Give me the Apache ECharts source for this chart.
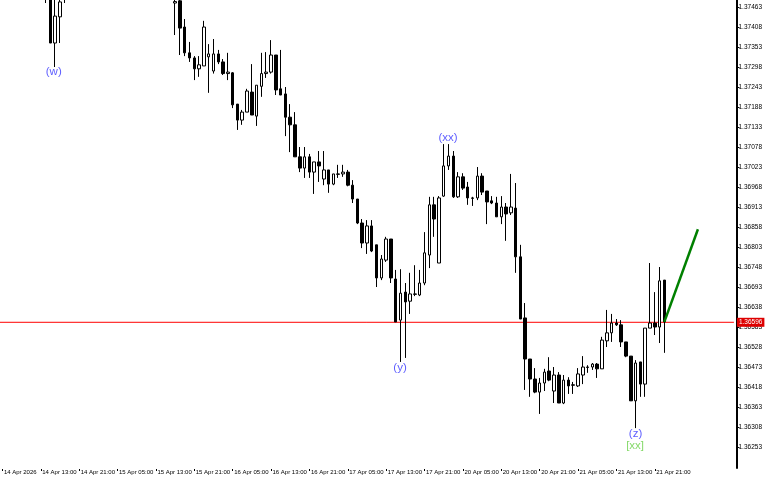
<!DOCTYPE html>
<html>
<head>
<meta charset="utf-8">
<script src="https://cdn.jsdelivr.net/npm/echarts@6/dist/echarts.min.js"></script>
<style>
html,body{margin:0;padding:0;background:#fff;}
#chart{width:768px;height:480px;}
</style>
</head>
<body>
<div id="chart"></div>
<script>
// ---------------- DATA ----------------
// Hourly bars, index 0 = 14 Apr 2026 05:00 (weekend hours skipped). null = bar outside visible price range.
var opens = [null,null,null,null,null,null,null,null,null,
 1.3752,1.3752,1.37364,1.37436,1.3751,
 null,null,null,null,null,null,null,null,null,null,null,null,null,null,null,null,null,null,null,null,null,null,
 1.37474,1.37480,1.37408,1.37337,1.37323,1.37293,1.37301,1.37326,1.37287,1.37334,
 1.37312,1.37280,1.37282,1.37196,1.37152,1.37174,1.37229,1.37163,1.37245,1.37280,
 1.37284,1.37331,1.37238,1.37224,1.37160,1.37139,1.37051,1.37020,1.37051,1.37009,
 1.37037,1.36990,1.37015,1.36976,1.37004,1.37004,1.37009,1.36973,1.36935,1.36869,
 1.36814,1.36861,1.36809,1.36718,1.36767,1.36825,1.36715,1.36602,1.36679,1.36654,
 1.36674,1.36671,1.36704,1.36781,1.36919,1.36759,1.36943,1.37026,1.37053,1.36941,
 1.36996,1.36968,1.36938,1.36938,1.36998,1.36957,1.36930,1.36924,1.36886,1.36913,
 1.36897,1.36910,1.36776,1.36608,1.36495,1.36440,1.36404,1.36429,1.36462,1.36407,
 1.36451,1.36374,1.36437,1.36424,1.36421,1.36451,1.36473,1.36473,1.36481,1.36468,
 1.36545,1.36567,1.36594,1.36589,1.36542,1.36503,1.36380,1.36487,1.36426,1.36580,
 1.36594,1.36583,1.36712];
var closes = [null,null,null,null,null,null,null,null,null,
 1.3750,1.37364,1.37438,1.37477,1.3753,
 null,null,null,null,null,null,null,null,null,null,null,null,null,null,null,null,null,null,null,null,null,null,
 1.37478,1.37405,1.37337,1.37323,1.37293,1.37304,1.37408,1.37334,1.37334,1.37312,
 1.37280,1.37284,1.37194,1.37152,1.37174,1.37232,1.37166,1.37248,1.37280,1.37284,
 1.37331,1.37235,1.37221,1.37160,1.37139,1.37051,1.37020,1.37051,1.37009,1.37037,
 1.37026,1.37015,1.36976,1.37004,1.37003,1.37009,1.36973,1.36935,1.36869,1.36814,
 1.36861,1.36792,1.36718,1.36770,1.36825,1.36718,1.36597,1.36676,1.36652,1.36674,
 1.36673,1.36704,1.36787,1.36919,1.36880,1.36938,1.37026,1.37053,1.36941,1.36996,
 1.36965,1.36938,1.36937,1.36998,1.36954,1.36927,1.36924,1.36886,1.36913,1.36894,
 1.36913,1.36776,1.36605,1.36495,1.36440,1.36404,1.36429,1.36459,1.36437,1.36451,
 1.36374,1.36437,1.36421,1.36423,1.36454,1.36473,1.36472,1.36481,1.36468,1.36547,
 1.36567,1.36594,1.36589,1.36542,1.36503,1.36380,1.36484,1.36426,1.36580,1.36594,
 1.36583,1.36710,1.36597];
var lows = [null,null,null,null,null,null,null,null,null,
 1.37474,1.37364,1.37298,1.37364,1.37474,
 null,null,null,null,null,null,null,null,null,null,null,null,null,null,null,null,null,null,null,null,null,null,
 1.37386,1.37331,1.37328,1.37312,1.37262,1.37271,1.37301,1.37227,1.37280,1.37306,
 1.37276,1.37262,1.37185,1.37125,1.37139,1.37174,1.37166,1.37136,1.37216,1.37268,
 1.37280,1.37221,1.37221,1.37108,1.37064,1.37051,1.37009,1.36993,1.36993,1.36949,
 1.36982,1.36973,1.36952,1.36973,1.36993,1.36996,1.36970,1.36924,1.36866,1.36800,
 1.36784,1.36789,1.36693,1.36712,1.36762,1.36704,1.36597,1.36487,1.36498,1.36619,
 1.36668,1.36668,1.36698,1.36745,1.36831,1.36759,1.36941,1.37015,1.36938,1.36938,
 1.36960,1.36919,1.36916,1.36932,1.36946,1.36866,1.36921,1.36886,1.36866,1.36820,
 1.36891,1.36732,1.36605,1.36410,1.36391,1.36401,1.36344,1.36407,1.36434,1.36374,
 1.36374,1.36371,1.36399,1.36399,1.36418,1.36426,1.36457,1.36465,1.36443,1.36468,
 1.36528,1.36542,1.36586,1.36528,1.36500,1.36380,1.36305,1.36391,1.36391,1.36580,
 1.36561,1.36539,1.36512];
var highs = [null,null,null,null,null,null,null,null,null,
 1.3754,1.3754,1.3750,1.3750,1.3756,
 null,null,null,null,null,null,null,null,null,null,null,null,null,null,null,null,null,null,null,null,null,null,
 1.3750,1.3750,1.37430,1.37367,1.37328,1.37328,1.37425,1.37361,1.37375,1.37345,
 1.37320,1.37337,1.37284,1.37196,1.37180,1.37238,1.37306,1.37248,1.37337,1.37339,
 1.37372,1.37331,1.37345,1.37243,1.37196,1.37174,1.37078,1.37078,1.37059,1.37037,
 1.37067,1.37067,1.37015,1.37004,1.37029,1.37029,1.37015,1.36987,1.36935,1.36880,
 1.36877,1.36877,1.36809,1.36781,1.36831,1.36825,1.36740,1.36742,1.36704,1.36732,
 1.36753,1.36740,1.36844,1.36941,1.36941,1.36943,1.37086,1.37086,1.37067,1.37009,
 1.37006,1.36982,1.36941,1.37023,1.37006,1.36957,1.36943,1.36941,1.36943,1.36924,
 1.37004,1.36979,1.36809,1.36649,1.36495,1.36470,1.36443,1.36468,1.36500,1.36473,
 1.36459,1.36451,1.36445,1.36432,1.36470,1.36503,1.36478,1.36484,1.36484,1.36556,
 1.36630,1.36619,1.36605,1.36602,1.36542,1.36503,1.36492,1.36487,1.36580,1.36759,
 1.36679,1.36748,1.36712];

var priceTicks = ['1.37463','1.37408','1.37353','1.37298','1.37243','1.37188','1.37133','1.37078',
 '1.37023','1.36968','1.36913','1.36858','1.36803','1.36748','1.36693','1.36638','1.36583',
 '1.36528','1.36473','1.36418','1.36363','1.36308','1.36253'];
var timeTicks = ['14 Apr 2026','14 Apr 13:00','14 Apr 21:00','15 Apr 05:00','15 Apr 13:00','15 Apr 21:00',
 '16 Apr 05:00','16 Apr 13:00','16 Apr 21:00','17 Apr 05:00','17 Apr 13:00','17 Apr 21:00',
 '20 Apr 05:00','20 Apr 13:00','20 Apr 21:00','21 Apr 05:00','21 Apr 13:00','21 Apr 21:00'];
var currentPrice = 1.36596;
// projection line (bar index, price)
var projX = [138, 145];
var projY = [1.36597, 1.36852];
// wave labels: bar index, price, text, colour
var waveX = [10.7, 92.9, 82.9, 132.0, 131.9];
var waveY = [1.37285, 1.37102, 1.36470, 1.36289, 1.36256];
var waveText = ['(w)', '(xx)', '(y)', '(z)', '[xx]'];
var waveColor = ['#3434ff', '#3434ff', '#3434ff', '#3434ff', '#66cf44'];

// ---------------- BUILD ----------------
var SLOTS = 153;
var months = ['Jan','Feb','Mar','Apr','May','Jun','Jul','Aug','Sep','Oct','Nov','Dec'];
var categories = [];
var t = Date.UTC(2026, 3, 14, 5);
for (var i = 0; i < SLOTS; i++) {
  var d = new Date(t);
  while (d.getUTCDay() === 6 || d.getUTCDay() === 0) { t += 3600000; d = new Date(t); }
  var hh = d.getUTCHours();
  categories.push(d.getUTCDate() + ' ' + months[d.getUTCMonth()] + ' ' + (hh < 10 ? '0' : '') + hh + ':00');
  t += 3600000;
}
var candles = [];
for (var k = 0; k < opens.length; k++) {
  if (opens[k] === null) candles.push('-');
  else candles.push([opens[k], closes[k], lows[k], highs[k]]);
}
var projData = projX.map(function (x, j) { return [x, projY[j]]; });
var priceLineData = [[-0.5, currentPrice], [SLOTS - 0.5, currentPrice]];
var waveData = waveX.map(function (x, j) {
  return { value: [x, waveY[j]], name: waveText[j], label: { color: waveColor[j] } };
});
var tickNums = priceTicks.map(Number);
var PX = 0.0000275;          // price per pixel
var PLOT_H = 468;
var Y_MAX = 1.374823;
var Y_MIN = Y_MAX - PX * PLOT_H;
function showTick(idx) { return idx % 8 === 0 && idx / 8 < timeTicks.length; }

var chart = echarts.init(document.getElementById('chart'), null, { renderer: 'canvas' });
chart.setOption({
  animation: false,
  backgroundColor: '#ffffff',
  grid: { left: -0.5, right: 34.1, top: 0, bottom: 480 - PLOT_H, containLabel: false },
  xAxis: [{
    type: 'category', data: categories, boundaryGap: true, offset: 1,
    axisLine: { show: false, onZero: false },
    axisTick: { show: true, alignWithLabel: true, interval: function (idx) { return showTick(idx); }, length: 2, lineStyle: { color: '#000' } },
    axisLabel: {
      interval: function (idx) { return showTick(idx); },
      formatter: function (v, idx) { return timeTicks[idx / 8] || ''; },
      align: 'left', fontSize: 6, fontFamily: 'Liberation Sans', color: '#000', margin: 0.5, padding: [0, 0, 0, 1.5]
    },
    splitLine: { show: false }
  }, {
    type: 'value', min: -0.5, max: SLOTS - 0.5, show: false,
    axisLine: { show: false, onZero: false }
  }],
  yAxis: {
    type: 'value', position: 'right', min: Y_MIN, max: Y_MAX, offset: 2.6, scale: true,
    axisLine: { show: true, onZero: false, lineStyle: { color: '#000', width: 2 } },
    axisTick: { show: true, customValues: tickNums, length: 3, lineStyle: { color: '#000' } },
    axisLabel: { customValues: tickNums, formatter: function (v) { return Number(v).toFixed(5); },
      fontSize: 6.5, fontFamily: 'Liberation Sans', color: '#000', margin: 2 },
    splitLine: { show: false }
  },
  series: [{
    type: 'line', xAxisIndex: 1, data: priceLineData, symbol: 'none', z: 1, silent: true,
    lineStyle: { color: '#ff0000', width: 1 },
    endLabel: { show: true, formatter: currentPrice.toFixed(5), backgroundColor: '#dd0000',
      color: '#ffffff', fontSize: 6.5, fontFamily: 'Liberation Sans', padding: [1, 2, 1, 2], distance: 3 }
  }, {
    type: 'candlestick', data: candles, clip: true, barWidth: 3, z: 2,
    itemStyle: { color: '#ffffff', color0: '#000000', borderColor: '#000000', borderColor0: '#000000', borderWidth: 1 }
  }, {
    type: 'line', xAxisIndex: 1, data: projData, symbol: 'none', clip: false, z: 3,
    lineStyle: { color: '#008000', width: 2.5 }
  }, {
    type: 'scatter', xAxisIndex: 1, data: waveData, symbolSize: 1, z: 10, itemStyle: { color: 'rgba(0,0,0,0)' },
    label: { show: true, position: 'inside', formatter: function (p) { return p.name; }, fontSize: 11.5, fontFamily: 'Liberation Sans' }
  }]
});
</script>
</body>
</html>
